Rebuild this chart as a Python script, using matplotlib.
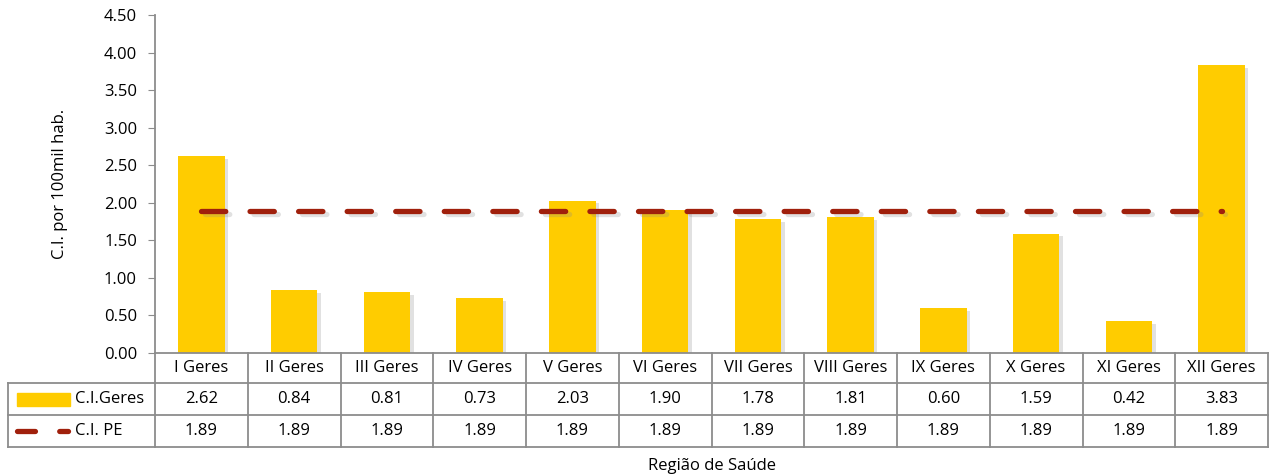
import matplotlib
matplotlib.use("Agg")
import matplotlib.pyplot as plt
import matplotlib.patheffects as pe
from matplotlib.transforms import blended_transform_factory
from matplotlib.patches import Rectangle
from matplotlib.lines import Line2D

regioes = ["I Geres", "II Geres", "III Geres", "IV Geres", "V Geres", "VI Geres",
           "VII Geres", "VIII Geres", "IX Geres", "X Geres", "XI Geres", "XII Geres"]
ci_geres = [2.62, 0.84, 0.81, 0.73, 2.03, 1.90, 1.78, 1.81, 0.60, 1.59, 0.42, 3.83]
ci_pe = [1.89, 1.89, 1.89, 1.89, 1.89, 1.89, 1.89, 1.89, 1.89, 1.89, 1.89, 1.89]
yticks = [0.0, 0.5, 1.0, 1.5, 2.0, 2.5, 3.0, 3.5, 4.0, 4.5]

plt.rcParams['font.family'] = ['Open Sans', 'DejaVu Sans']
FS = 12
bar_color = '#FFCC00'
line_color = '#A0200C'
grid_color = '#8C8C8C'

W, H = 1271, 476
fig = plt.figure(figsize=(W / 100, H / 100), dpi=100)
ax = fig.add_axes([155 / W, 1 - 353 / H, (1268 - 155) / W, (353 - 15) / H])

x = list(range(len(regioes)))
ax.bar(x, ci_geres, width=0.5, color=bar_color, zorder=2,
       path_effects=[pe.SimplePatchShadow(offset=(2.5, -2), shadow_rgbFace='#888888', alpha=0.25),
                     pe.Normal()])
ax.plot(x, ci_pe, color=line_color, lw=3.8, dash_capstyle='round',
        linestyle=(0, (4.6, 4.6)), zorder=3,
        path_effects=[pe.SimpleLineShadow(offset=(2.5, -2), shadow_color='#888888', alpha=0.25),
                      pe.Normal()])

ax.set_xlim(-0.5, len(regioes) - 0.5)
ax.set_ylim(0, 4.5)
ax.set_yticks(yticks)
ax.set_yticklabels([f"{v:.2f}" for v in yticks], fontsize=FS)
ax.set_xticks([])
for s in ['top', 'right']:
    ax.spines[s].set_visible(False)
for s in ['left', 'bottom']:
    ax.spines[s].set_color(grid_color)
    ax.spines[s].set_linewidth(1.3)
ax.tick_params(axis='y', direction='out', length=5, color=grid_color, pad=8)
ax.set_ylabel("C.I. por 100mil hab.", fontsize=FS, labelpad=26)

# data table below the axes
tr = blended_transform_factory(ax.transData, fig.transFigure)
row_y = [1 - 353 / H, 1 - 383 / H, 1 - 415 / H, 1 - 447 / H]
left = 8 / W
right = 1268 / W
for yy in row_y[1:]:
    fig.add_artist(Line2D([left, right], [yy, yy], transform=fig.transFigure,
                          color=grid_color, lw=1.3))
fig.add_artist(Line2D([left, left], [row_y[1], row_y[3]], transform=fig.transFigure,
                      color=grid_color, lw=1.3))
for i in range(len(regioes) + 1):
    fig.add_artist(Line2D([i - 0.5, i - 0.5], [row_y[0], row_y[3]], transform=tr,
                          color=grid_color, lw=1.3))

for i, reg in enumerate(regioes):
    fig.text(i, (row_y[0] + row_y[1]) / 2, reg, transform=tr, ha='center', va='center', fontsize=FS)
    fig.text(i, (row_y[1] + row_y[2]) / 2, f"{ci_geres[i]:.2f}", transform=tr,
             ha='center', va='center', fontsize=FS)
    fig.text(i, (row_y[2] + row_y[3]) / 2, f"{ci_pe[i]:.2f}", transform=tr,
             ha='center', va='center', fontsize=FS)

# legend keys inside the table
fig.add_artist(Rectangle((17 / W, 1 - 406 / H), 53 / W, 13 / H, transform=fig.transFigure,
                         color=bar_color))
fig.add_artist(Line2D([17 / W, 68 / W], [1 - 431 / H, 1 - 431 / H], transform=fig.transFigure,
                      color=line_color, lw=3.8, dash_capstyle='round',
                      linestyle=(0, (3.4, 4.6))))
fig.text(75 / W, (row_y[1] + row_y[2]) / 2, "C.I.Geres", ha='left', va='center', fontsize=FS)
fig.text(75 / W, (row_y[2] + row_y[3]) / 2, "C.I. PE", ha='left', va='center', fontsize=FS)

fig.text((155 + 1268) / 2 / W, 1 - 466 / H, "Região de Saúde", ha='center', va='center', fontsize=FS)

fig.savefig("out.png", dpi=100)
